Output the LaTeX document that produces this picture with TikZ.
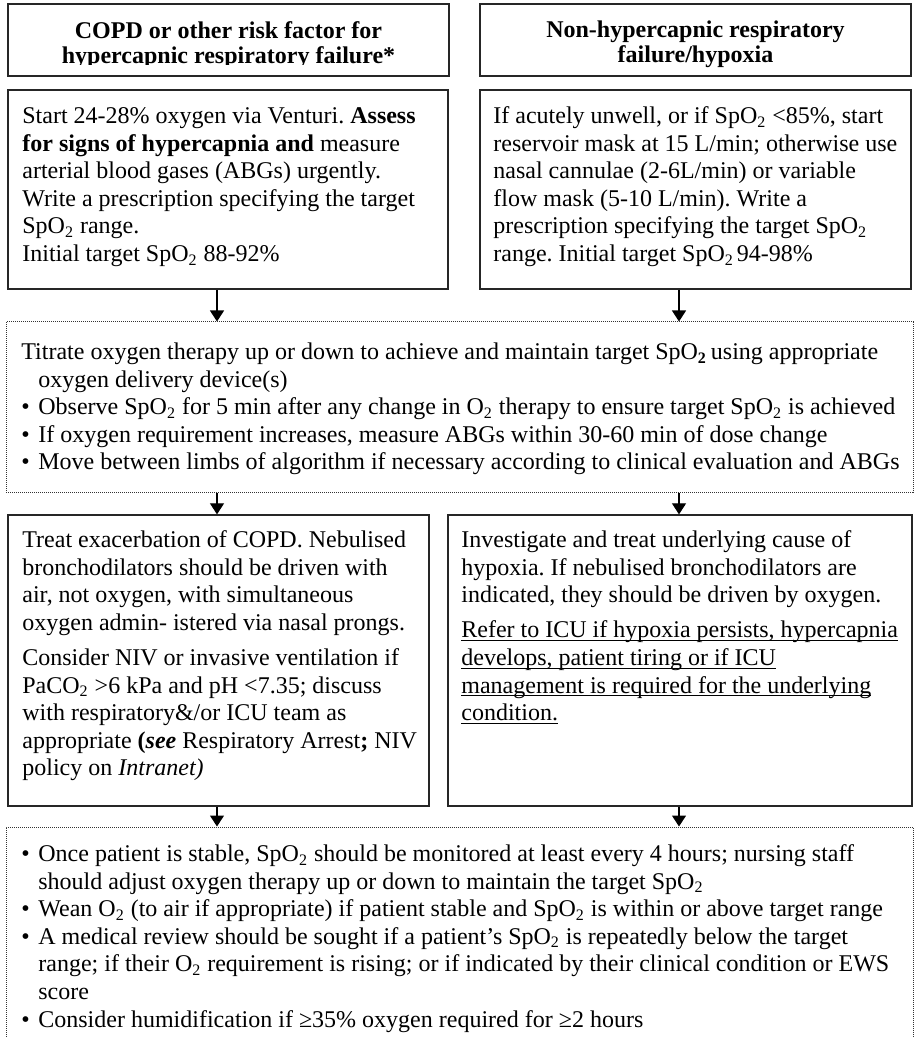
\documentclass[tikz,border=0pt]{standalone}
\usepackage{fontspec}
\setmainfont{Liberation Serif}
\usetikzlibrary{arrows.meta,fit}
\frenchspacing
\newcommand\subtwo{\textsubscript{2}}
\newcommand\blt{\makebox[8.5pt][l]{•}}
\newcommand\ind{\hspace*{8.5pt}}
\newcommand\myul[1]{\setbox0\hbox{#1}\rlap{\rule[-1.7pt]{\wd0}{0.55pt}}\box0}
\begin{document}
\begin{tikzpicture}[x=0.5pt,y=-0.5pt,
  box/.style={draw=black!85,line width=0.65pt,inner sep=0pt},
  dbox/.style={draw=black!80,line width=0.5pt,dash pattern=on 0.5pt off 0.5pt,inner sep=0pt},
  txt/.style={anchor=north west,inner sep=0pt,align=left,font=\fontsize{12}{13.8}\selectfont\frenchspacing},
  head/.style={anchor=north,inner sep=0pt,align=center,font=\fontsize{12}{12.75}\selectfont\bfseries},
  arr/.style={line width=0.55pt,-{Triangle[length=5.5pt,width=7pt]}}]
\clip (0,0) rectangle (915,1037);
\fill[white] (0,0) rectangle (915,1037);
% headers
\node[box,fit={(8,4)(449,76)}] (hL) {};
\node[box,fit={(480,4)(911,76)}] (hR) {};
\begin{scope}
\clip (8,4) rectangle (449,65);
\node[head] (hLt) at (228.5,20.2) {\strut COPD or other risk factor for\\hypercapnic respiratory failure*};
\end{scope}
\node[head] (hRt) at (695.5,19.2) {\strut Non-hypercapnic respiratory\\failure/hypoxia};
% second row
\node[box,fit={(8,90)(448,289)}] (bL) {};
\node[box,fit={(480,90)(911,289)}] (bR) {};
\node[txt] (bLt) at (22,103.7) {\strut Start 24-28\% oxygen via Venturi. \textbf{Assess}\\
\textbf{for signs of hypercapnia and} measure\\
arterial blood gases (ABGs) urgently.\\
Write a prescription specifying the target\\
SpO\subtwo{} range.\\
Initial target SpO\subtwo{} 88-92\%};
\node[txt] (bRt) at (493,103.7) {\strut If acutely unwell, or if SpO\subtwo{} <85\%, start\\
reservoir mask at 15 L/min; otherwise use\\
nasal cannulae (2-6L/min) or variable\\
flow mask (5-10 L/min). Write a\\
prescription specifying the target SpO\subtwo\\
range. Initial target SpO\subtwo\hspace{1.5pt}94-98\%};
% titrate box
\node[dbox,fit={(6,322)(913,492)}] (d1) {};
\node[txt] (d1t) at (21,339.7) {\strut Titrate oxygen therapy up or down to achieve and maintain target SpO\textsubscript{\textbf{2}}\hspace{2pt}using appropriate\\
\ind oxygen delivery device(s)\\
\blt Observe SpO\subtwo{} for 5 min after any change in O\subtwo{} therapy to ensure target SpO\subtwo{} is achieved\\
\blt If oxygen requirement increases, measure ABGs within 30-60 min of dose change\\
\blt Move between limbs of algorithm if necessary according to clinical evaluation and ABGs};
% third row
\node[box,fit={(8,515)(429,806)}] (cL) {};
\node[box,fit={(448,515)(912,806)}] (cR) {};
\node[txt] (cLt) at (22,527.7) {\strut Treat exacerbation of COPD. Nebulised\\
bronchodilators should be driven with\\
air, not oxygen, with simultaneous\\
oxygen admin- istered via nasal prongs.\\[3.8pt]
Consider NIV or invasive ventilation if\\
PaCO\subtwo{} >6 kPa and pH <7.35; discuss\\
with respiratory\&/or ICU team as\\
appropriate \textbf{(\textit{see}} Respiratory Arrest\textbf{;} NIV\\
policy on \textit{Intranet)}};
\node[txt] (cRt) at (461,527.7) {\strut Investigate and treat underlying cause of\\
hypoxia. If nebulised bronchodilators are\\
indicated, they should be driven by oxygen.\\[3.8pt]
\myul{Refer to ICU if hypoxia persists, hypercapnia}\\
\myul{develops, patient tiring or if ICU}\\
\myul{management is required for the underlying}\\
\myul{condition.}};
% bottom box
\node[dbox,fit={(6,827)(913,1060)}] (d2) {};
\node[txt] (d2t) at (21,841.7) {\strut\blt Once patient is stable, SpO\subtwo{} should be monitored at least every 4 hours; nursing staff\\
\ind should adjust oxygen therapy up or down to maintain the target SpO\subtwo\\
\blt Wean O\subtwo{} (to air if appropriate) if patient stable and SpO\subtwo{} is within or above target range\\
\blt A medical review should be sought if a patient’s SpO\subtwo{} is repeatedly below the target\\
\ind range; if their O\subtwo{} requirement is rising; or if indicated by their clinical condition or EWS\\
\ind score\\
\blt Consider humidification if ≥35\% oxygen required for ≥2 hours};
% arrows
\coordinate (xL) at (217,0);
\coordinate (xR) at (679,0);
\draw[arr] (bL.south -| xL) -- (d1.north -| xL);
\draw[arr] (bR.south -| xR) -- (d1.north -| xR);
\draw[arr] (d1.south -| xL) -- (cL.north -| xL);
\draw[arr] (d1.south -| xR) -- (cR.north -| xR);
\draw[arr] (cL.south -| xL) -- (d2.north -| xL);
\draw[arr] (cR.south -| xR) -- (d2.north -| xR);
\end{tikzpicture}
\end{document}
